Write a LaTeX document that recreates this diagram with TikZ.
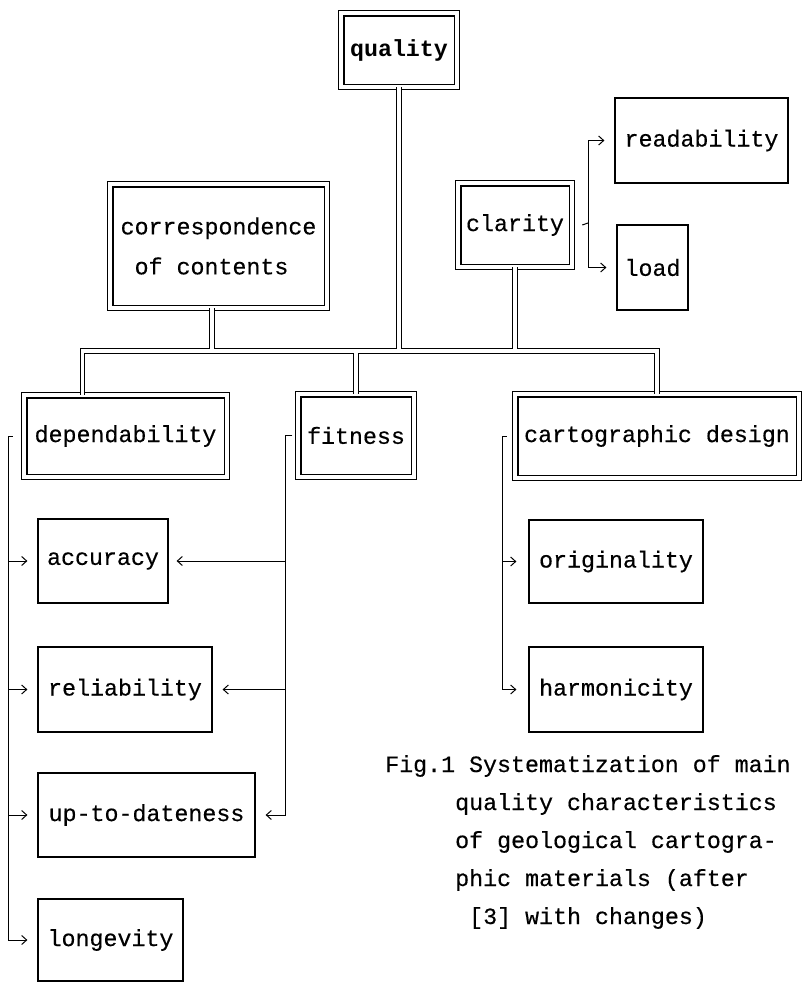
\documentclass[tikz,border=0pt]{standalone}
\usepackage{fontspec}
\newfontfamily\tyw{Liberation Mono}[FakeBold=0.4]
\newfontfamily\tywb{Liberation Mono}
\usetikzlibrary{arrows.meta}
\begin{document}
\begin{tikzpicture}[x=1pt,y=-1pt,
  txt/.style={font=\tyw\fontsize{23.3}{28}\selectfont},
  dbox/.style={txt,draw,double,double distance=4.2pt,line width=1.1pt,inner sep=0pt},
  sbox/.style={txt,draw,line width=1.2pt,inner sep=0pt},
  dbl/.style={draw,double,double distance=3.5pt,line width=1.1pt},
  br/.style={line width=1pt},
  brar/.style={br,-{Straight Barb[length=5pt,width=9pt,line width=1pt]},shorten >=10pt},
  captext/.style={txt,anchor=base west,inner sep=0pt}
]
\fill[white] (0,0) rectangle (804,983);
\path[use as bounding box] (0,0) rectangle (804,983);

% double boxes
\node[dbox,minimum width=115.4pt,minimum height=73.4pt] (qual) at (399,50) {\tywb\fontsize{23.3}{28}\selectfont\bfseries quality};
\node[dbox,minimum width=216.4pt,minimum height=123.4pt,align=left,
      font=\tyw\fontsize{23.3}{40}\selectfont] (corr) at (218.5,246)
      {correspondence\\\hphantom{c}of contents};
\node[dbox,minimum width=113.4pt,minimum height=83.4pt] (clar) at (515,225) {clarity};
\node[dbox,minimum width=202.4pt,minimum height=81.4pt] (dep) at (125.5,436) {dependability};
\node[dbox,minimum width=115.4pt,minimum height=82.4pt] (fit) at (356,435.5) {fitness};
\node[dbox,minimum width=283.4pt,minimum height=83.4pt] (cart) at (657,436) {cartographic design};

% single boxes
\node[sbox,minimum width=173pt,minimum height=85pt] (read) at (701.5,140.5) {readability};
\node[sbox,minimum width=71pt,minimum height=85pt] (load) at (652.5,267.5) {load};
\node[sbox,minimum width=130pt,minimum height=84pt] (acc) at (103,561) {accuracy};
\node[sbox,minimum width=174pt,minimum height=85pt] (rel) at (125,689.5) {reliability};
\node[sbox,minimum width=217pt,minimum height=84pt] (upd) at (146.5,815) {up-to-dateness};
\node[sbox,minimum width=145pt,minimum height=82pt] (lon) at (110.5,940) {longevity};
\node[sbox,minimum width=174pt,minimum height=83pt] (orig) at (616,561.5) {originality};
\node[sbox,minimum width=174pt,minimum height=85pt] (harm) at (616,689.5) {harmonicity};

% caption
\node[captext] (cap1) at (385,772) {Fig.1 Systematization of main};
\node[captext] (cap2) at (455,810) {quality characteristics};
\node[captext] (cap3) at (455,848) {of geological cartogra-};
\node[captext] (cap4) at (455,886) {phic materials (after};
\node[captext] (cap5) at (469,924) {[3] with changes)};

% double-line tree
\coordinate (bus) at (0,351);
\coordinate (cs) at ([xshift=-6.5pt]corr.south);
\coordinate (ds) at ([xshift=-43pt]dep.north);
\draw[dbl] (ds) |- (bus -| cart.north) -- (cart.north)
  (cs) -- (cs |- bus)
  (qual.south) -- (qual.south |- bus)
  (clar.south) -- (clar.south |- bus)
  (fit.north) -- (fit.north |- bus);

% brackets
\coordinate (dl) at (8,436);
\draw[br] ([xshift=-11pt]dep.west) -- (dl);
\draw[brar] (dl) |- (acc.west);
\draw[brar] (dl) |- (rel.west);
\draw[brar] (dl) |- (upd.west);
\draw[brar] (dl) |- (lon.west);

\coordinate (fl) at (285,435.5);
\draw[br] ([xshift=-5.3pt]fit.west) -- (fl);
\draw[brar,shorten >=8pt] (fl) |- (acc.east);
\draw[brar] (fl) |- (rel.east);
\draw[brar] (fl) |- (upd.east);

\coordinate (cl) at (588,223);
\draw[br] ([xshift=10pt]clar.east) -- (cl);
\draw[brar] (cl) |- (read.west);
\draw[brar] (cl) |- (load.west);

\coordinate (kl) at (502,436);
\draw[br] ([xshift=-8pt]cart.west) -- (kl);
\draw[brar,shorten >=12pt] (kl) |- (orig.west);
\draw[brar,shorten >=12pt] (kl) |- (harm.west);
\end{tikzpicture}
\end{document}
